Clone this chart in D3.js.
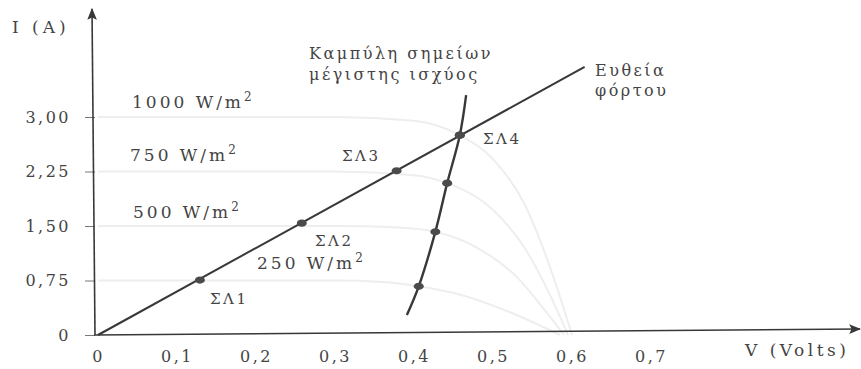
<!DOCTYPE html>
<html>
<head>
<meta charset="utf-8">
<script src="https://cdn.jsdelivr.net/npm/d3@7"></script>
<style>
  html, body { margin: 0; padding: 0; background: #ffffff; }
  svg { display: block; }
  text { font-family: "DejaVu Serif", "Liberation Serif", serif; fill: #444444; }
</style>
</head>
<body>
<svg id="chart" width="861" height="369"></svg>
<script>
// Axis ticks
const voltTicks = [0, 0.1, 0.2, 0.3, 0.4, 0.5, 0.6, 0.7];
const voltTickLabels = ["0", "0,1", "0,2", "0,3", "0,4", "0,5", "0,6", "0,7"];
const currentTicks = [0, 0.75, 1.5, 2.25, 3.0];
const currentTickLabels = ["0", "0,75", "1,50", "2,25", "3,00"];

// Irradiance levels and the I-V characteristic of the panel at each level (V, I)
const irradiance = [1000, 750, 500, 250];
const ivCurve1000 = [[0, 3.0], [0.30, 3.0], [0.40, 2.95], [0.458, 2.75], [0.50, 2.42], [0.54, 1.8], [0.57, 1.0], [0.59, 0.35], [0.60, 0]];
const ivCurve750  = [[0, 2.25], [0.30, 2.25], [0.40, 2.2], [0.442, 2.09], [0.50, 1.72], [0.54, 1.2], [0.57, 0.6], [0.595, 0]];
const ivCurve500  = [[0, 1.5], [0.30, 1.5], [0.38, 1.48], [0.427, 1.42], [0.48, 1.2], [0.53, 0.8], [0.565, 0.35], [0.59, 0]];
const ivCurve250  = [[0, 0.75], [0.30, 0.75], [0.36, 0.73], [0.406, 0.67], [0.46, 0.55], [0.52, 0.32], [0.585, 0]];

// Load line through the origin and the operating points on it
const loadLine = [[0, 0], [0.616, 3.69]];
const operatingNames = ["ΣΛ1", "ΣΛ2", "ΣΛ3", "ΣΛ4"];
const operatingV = [0.129, 0.258, 0.378, 0.458];
const operatingI = [0.756, 1.54, 2.26, 2.75];

// Curve through the maximum-power points of each characteristic
const mppV = [0.391, 0.406, 0.427, 0.442, 0.458, 0.466];
const mppI = [0.275, 0.67, 1.42, 2.09, 2.75, 3.30];
const mppMarked = [false, true, true, true, true, false];

const svg = d3.select("#chart");
const x = d3.scaleLinear().domain([0, 0.7]).range([98, 651]);
const y = d3.scaleLinear().domain([0, 3]).range([335, 117]);

const ink = "#383838";

// Faint I-V characteristics in the background
const ivLine = d3.line().x(d => x(d[0])).y(d => y(d[1])).curve(d3.curveMonotoneX);
[ivCurve1000, ivCurve750, ivCurve500, ivCurve250].forEach(c => {
  svg.append("path").attr("d", ivLine(c))
    .attr("fill", "none").attr("stroke", "#eeeeee").attr("stroke-width", 2);
});

// Arrowheads for the axes
const defs = svg.append("defs");
defs.append("marker").attr("id", "arrow")
  .attr("viewBox", "0 0 10 10").attr("refX", 9).attr("refY", 5)
  .attr("markerWidth", 12).attr("markerHeight", 12).attr("markerUnits", "userSpaceOnUse")
  .attr("orient", "auto")
  .append("path").attr("d", "M0,1 L10,5 L0,9 L2,5 Z").attr("fill", ink);

// Y axis
const yAxis = d3.axisLeft(y).tickValues(currentTicks)
  .tickFormat((d, i) => currentTickLabels[i]).tickSize(10).tickPadding(14);
const gy = svg.append("g").attr("transform", `translate(${x(0) - 3},0)`).call(yAxis);
gy.select(".domain").remove();
gy.selectAll(".tick line").attr("stroke", "#777").attr("stroke-width", 1);
gy.selectAll(".tick text").attr("font-size", 16).attr("letter-spacing", 2.5)
  .attr("fill", "#4a4a4a").attr("font-family", "DejaVu Serif, serif");
svg.append("line").attr("x1", x(0) - 3).attr("y1", y(0)).attr("x2", x(0) - 6).attr("y2", 9)
  .attr("stroke", ink).attr("stroke-width", 1.6).attr("marker-end", "url(#arrow)");

// X axis
const xTicks = d3.axisBottom(x).tickValues(voltTicks)
  .tickFormat((d, i) => voltTickLabels[i]).tickSize(0).tickPadding(16);
const gx = svg.append("g").attr("transform", `translate(0,${y(0)})`).call(xTicks);
gx.select(".domain").remove();
gx.selectAll(".tick text").attr("font-size", 16).attr("letter-spacing", 2.5)
  .attr("fill", "#4a4a4a").attr("font-family", "DejaVu Serif, serif");
svg.append("line").attr("x1", x(0) - 4).attr("y1", y(0)).attr("x2", 860).attr("y2", y(0) - 6)
  .attr("stroke", ink).attr("stroke-width", 1.6).attr("marker-end", "url(#arrow)");

// Load line
const straight = d3.line().x(d => x(d[0])).y(d => y(d[1]));
svg.append("path").attr("d", straight(loadLine))
  .attr("fill", "none").attr("stroke", ink).attr("stroke-width", 2);

// Maximum-power curve
const mppPts = mppV.map((v, i) => [v, mppI[i]]);
svg.append("path").attr("d", d3.line().x(d => x(d[0])).y(d => y(d[1])).curve(d3.curveCatmullRom)(mppPts))
  .attr("fill", "none").attr("stroke", ink).attr("stroke-width", 2.4);

// Markers
const markers = operatingV.map((v, i) => [v, operatingI[i]])
  .concat(mppPts.filter((d, i) => mppMarked[i]));
svg.selectAll("ellipse.pt").data(markers).join("ellipse").attr("class", "pt")
  .attr("cx", d => x(d[0])).attr("cy", d => y(d[1]))
  .attr("rx", 5).attr("ry", 3.6).attr("fill", "#4a4a4a");

// Text helper with optional superscript
function label(px, py, main, sup, size, spacing) {
  const t = svg.append("text").attr("x", px).attr("y", py)
    .attr("font-size", size || 16).attr("letter-spacing", spacing === undefined ? 2.5 : spacing);
  t.append("tspan").text(main);
  if (sup) t.append("tspan").attr("dy", -7).attr("font-size", 12).text(sup);
  return t;
}

label(12, 33, "I (A)", null, 17, 4);
label(745, 356, "V (Volts)", null, 17, 3.5);

const irrPos = [[132, 108], [130, 161], [133, 218], [257, 269]];
irradiance.forEach((w, i) => label(irrPos[i][0], irrPos[i][1], `${w} W/m`, "2", 17, 3));

const namePos = [[210, 304], [315, 246], [342, 161], [483, 144]];
operatingNames.forEach((n, i) => label(namePos[i][0], namePos[i][1], n, null, 15, 2.5));

label(309, 59, "Καμπύλη σημείων");
label(309, 80, "μέγιστης ισχύος");
label(595, 76, "Ευθεία");
label(595, 96, "φόρτου");
</script>
</body>
</html>
